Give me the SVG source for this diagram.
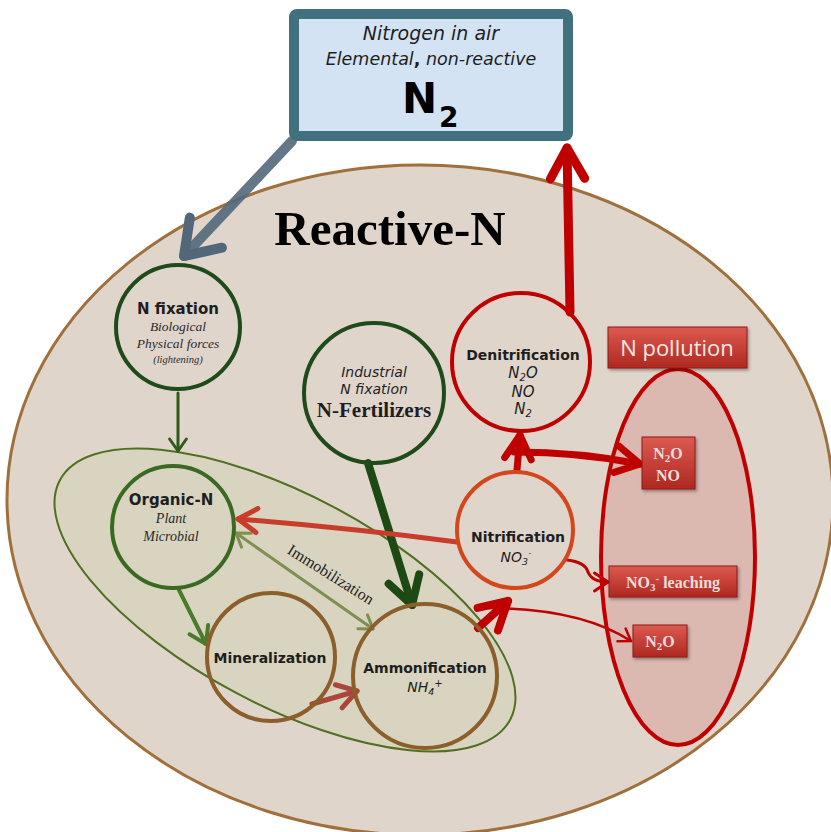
<svg xmlns="http://www.w3.org/2000/svg" width="831" height="832" viewBox="0 0 831 832">
<style>
.ttl{font-family:"DejaVu Sans",Verdana,sans-serif;font-weight:bold;fill:#1e1e1e;text-anchor:middle}
.si{font-family:"Liberation Serif","Times New Roman",serif;font-style:italic;fill:#2a2a2a;text-anchor:middle}
.sa{font-family:"DejaVu Sans",Verdana,sans-serif;font-style:italic;fill:#1e1e1e;text-anchor:middle}
.box{fill:url(#rg);stroke:#8e1a14;stroke-width:1}
.bt{font-family:"Liberation Serif","Times New Roman",serif;font-weight:bold;fill:#eadede;font-size:16px;text-anchor:middle}
.ln{fill:none;stroke-linecap:round}
</style>
<defs>
<linearGradient id="rg" x1="0" y1="0" x2="0" y2="1">
<stop offset="0" stop-color="#dc5a50"/>
<stop offset="1" stop-color="#ae2820"/>
</linearGradient>
<filter id="sh" x="-20%" y="-20%" width="140%" height="150%"><feDropShadow dx="1.5" dy="2" stdDeviation="1.5" flood-color="#000" flood-opacity="0.35"/></filter>
<marker id="mGrey" viewBox="-4.5 -3 5.5 6" refX="0" refY="0" markerWidth="5.5" markerHeight="6" orient="auto"><path d="M-3.2,-2.2 L0,0 L-3.2,2.2" fill="none" stroke="#52687a" stroke-width="1" stroke-linecap="round" stroke-linejoin="round"/></marker>
<marker id="mRed" viewBox="-4.5 -3 5.5 6" refX="0" refY="0" markerWidth="5.5" markerHeight="6" orient="auto"><path d="M-3.4,-1.9 L0,0 L-3.4,1.9" fill="none" stroke="#c00000" stroke-width="1" stroke-linecap="round" stroke-linejoin="round"/></marker>
<marker id="mRedS" viewBox="-6 -4 7 8" refX="0" refY="0" markerWidth="7" markerHeight="8" orient="auto"><path d="M-4.5,-3 L0,0 L-4.5,3" fill="none" stroke="#c00000" stroke-width="1" stroke-linecap="round" stroke-linejoin="round"/></marker>
<marker id="mDk" viewBox="-4.5 -3 5.5 6" refX="0" refY="0" markerWidth="5.5" markerHeight="6" orient="auto"><path d="M-3.4,-2 L0,0 L-3.4,2" fill="none" stroke="#1d4a12" stroke-width="1" stroke-linecap="round" stroke-linejoin="round"/></marker>
<marker id="mGr1" viewBox="-6 -4 7 8" refX="0" refY="0" markerWidth="7" markerHeight="8" orient="auto"><path d="M-4,-2.8 L0,0 L-4,2.8" fill="none" stroke="#2f5a1a" stroke-width="1" stroke-linecap="round" stroke-linejoin="round"/></marker>
<marker id="mGr2" viewBox="-6 -4 7 8" refX="0" refY="0" markerWidth="7" markerHeight="8" orient="auto"><path d="M-4,-2.6 L0,0 L-4,2.6" fill="none" stroke="#4b7a2c" stroke-width="1" stroke-linecap="round" stroke-linejoin="round"/></marker>
<marker id="mOl" viewBox="-6 -4 7 8" refX="0" refY="0" markerWidth="7" markerHeight="8" orient="auto-start-reverse"><path d="M-4.2,-2.8 L0,0 L-4.2,2.8" fill="none" stroke="#7f8f50" stroke-width="1" stroke-linecap="round" stroke-linejoin="round"/></marker>
<marker id="mBr" viewBox="-6 -4 7 8" refX="0" refY="0" markerWidth="7" markerHeight="8" orient="auto"><path d="M-3.8,-2.4 L0,0 L-3.8,2.4" fill="none" stroke="#a9473b" stroke-width="1" stroke-linecap="round" stroke-linejoin="round"/></marker>
<marker id="mRo" viewBox="-6 -4 7 8" refX="0" refY="0" markerWidth="7" markerHeight="8" orient="auto"><path d="M-3.8,-2.4 L0,0 L-3.8,2.4" fill="none" stroke="#c83c2c" stroke-width="1" stroke-linecap="round" stroke-linejoin="round"/></marker>
</defs>
<rect width="831" height="832" fill="#ffffff"/>

<g id="reactive-n">
<ellipse cx="420" cy="500" rx="413" ry="335" fill="#e0d5cb" stroke="#a0703c" stroke-width="3"/>
<text x="390" y="245" font-family="Liberation Serif,'Times New Roman',serif" font-weight="bold" font-size="49" fill="#000" text-anchor="middle">Reactive-N</text>
</g>

<g id="soil-pool">
<ellipse cx="285" cy="600" rx="255" ry="105" transform="rotate(28 285 600)" fill="#d8d4c0" stroke="#4e7020" stroke-width="2"/>
</g>

<g id="n-pollution-zone">
<ellipse cx="678" cy="557" rx="77" ry="188" fill="#dbb8b0" stroke="#c00000" stroke-width="4"/>
</g>

<g id="connectors">
<line class="ln" x1="292" y1="141" x2="184" y2="256" stroke="#52687a" stroke-opacity="0.9" stroke-width="10" marker-end="url(#mGrey)"/>
<line class="ln" x1="570" y1="312" x2="567" y2="148" stroke="#c00000" stroke-width="9" marker-end="url(#mRed)"/>
<line class="ln" x1="178" y1="393" x2="178" y2="451" stroke="#2f5a1a" stroke-width="3" marker-end="url(#mGr1)"/>
<line class="ln" x1="179" y1="590" x2="206" y2="644" stroke="#4b7a2c" stroke-width="4" marker-end="url(#mGr2)"/>
<line class="ln" x1="312" y1="704" x2="357" y2="691" stroke="#a9473b" stroke-width="5" marker-end="url(#mBr)"/>
<line class="ln" x1="236" y1="533" x2="373" y2="629" stroke="#7f8f50" stroke-width="3" marker-start="url(#mOl)" marker-end="url(#mOl)"/>
<line class="ln" x1="368" y1="463" x2="412" y2="605" stroke="#1d4a12" stroke-width="8" marker-end="url(#mDk)"/>
<path class="ln" d="M457,542 Q350,528 238,519" stroke="#c83c2c" stroke-width="5" marker-end="url(#mRo)"/>
<line class="ln" x1="478" y1="628" x2="508" y2="601" stroke="#c00000" stroke-width="8" marker-end="url(#mRed)"/>
<line class="ln" x1="517" y1="470" x2="520" y2="435" stroke="#c00000" stroke-width="7" marker-end="url(#mRed)"/>
<path class="ln" d="M514,452 Q580,452 640,464" stroke="#c00000" stroke-width="7" marker-end="url(#mRed)"/>
<path class="ln" d="M567,560 Q585,562 588,572 Q592,582 608,582" stroke="#c00000" stroke-width="3" marker-end="url(#mRedS)"/>
<path class="ln" d="M487,608 Q580,608 631,641" stroke="#c00000" stroke-width="2.5" marker-end="url(#mRedS)"/>
<text transform="translate(328,579) rotate(32)" font-family="Liberation Serif,'Times New Roman',serif" font-size="16" fill="#1e1e1e" text-anchor="middle">Immobilization</text>
</g>

<g id="n2-air">
<rect x="294" y="14" width="274" height="122" rx="3" fill="#d3e3f3" stroke="#41707f" stroke-width="10"/>
<text class="sa" x="431" y="40" font-size="19">Nitrogen in air</text>
<text class="sa" x="431" y="65" font-size="17.5">Elemental<tspan font-weight="bold" font-style="normal">,</tspan> non-reactive</text>
<text x="402" y="113" font-family="'DejaVu Sans',Verdana,sans-serif" font-weight="bold" font-size="42" fill="#000">N</text>
<text x="439" y="127" font-family="'DejaVu Sans',Verdana,sans-serif" font-weight="bold" font-size="28" fill="#000">2</text>
</g>

<g id="n-fixation">
<circle cx="178" cy="327" r="62" fill="none" stroke="#1f4a1a" stroke-width="4"/>
<text class="ttl" x="178" y="314" font-size="15">N fixation</text>
<text class="si" x="178" y="331" font-size="13.5">Biological</text>
<text class="si" x="178" y="348" font-size="13.5">Physical forces</text>
<text class="si" x="178" y="363" font-size="10.5">(lightening)</text>
</g>

<g id="industrial">
<circle cx="374" cy="393" r="70" fill="none" stroke="#1f4a1a" stroke-width="4"/>
<text class="sa" x="374" y="377" font-size="14">Industrial</text>
<text class="sa" x="374" y="394" font-size="14">N fixation</text>
<text x="374" y="417" font-family="Liberation Serif,'Times New Roman',serif" font-weight="bold" font-size="21" fill="#1e1e1e" text-anchor="middle">N-Fertilizers</text>
</g>

<g id="denitrification">
<circle cx="521" cy="362" r="69" fill="none" stroke="#c00000" stroke-width="4"/>
<text class="ttl" x="523" y="360" font-size="14">Denitrification</text>
<text class="sa" x="523" y="378" font-size="15">N<tspan font-size="10" dy="3">2</tspan><tspan dy="-3">O</tspan></text>
<text class="sa" x="523" y="397" font-size="15">NO</text>
<text class="sa" x="523" y="414" font-size="15">N<tspan font-size="10" dy="3">2</tspan></text>
</g>

<g id="nitrification">
<circle cx="515" cy="530" r="58" fill="none" stroke="#d2481c" stroke-width="4"/>
<text class="ttl" x="518" y="542" font-size="14">Nitrification</text>
<text class="sa" x="516" y="562" font-size="14">NO<tspan font-size="9.5" dy="3">3</tspan><tspan font-size="9" dy="-9">-</tspan></text>
</g>

<g id="organic-n">
<circle cx="173" cy="527" r="61" fill="none" stroke="#3a6a22" stroke-width="4"/>
<text class="ttl" x="171" y="505" font-size="15" fill="#2e3326">Organic-N</text>
<text class="si" x="171" y="523" font-size="14">Plant</text>
<text class="si" x="171" y="541" font-size="14">Microbial</text>
</g>

<g id="mineralization">
<circle cx="271" cy="657" r="64" fill="none" stroke="#8b5e2b" stroke-width="4"/>
<text class="ttl" x="270" y="663" font-size="14" fill="#303226">Mineralization</text>
</g>

<g id="ammonification">
<circle cx="425" cy="676" r="72" fill="none" stroke="#8b5e2b" stroke-width="4"/>
<text class="ttl" x="425" y="673" font-size="14" fill="#303226">Ammonification</text>
<text class="sa" x="425" y="692" font-size="14">NH<tspan font-size="9.5" dy="3">4</tspan><tspan font-size="10" dy="-8">+</tspan></text>
</g>

<g id="n-pollution">
<rect class="box" x="608" y="327" width="139" height="41" filter="url(#sh)"/>
<text x="677" y="356" font-family="'Open Sans','Liberation Sans',sans-serif" font-size="22" fill="#f3ebe6" text-anchor="middle">N pollution</text>
</g>

<g id="box-n2o-no">
<rect class="box" x="642" y="437" width="53" height="52" filter="url(#sh)"/>
<text class="bt" x="668" y="459">N<tspan font-size="11" dy="3">2</tspan><tspan dy="-3">O</tspan></text>
<text class="bt" x="668" y="481">NO</text>
</g>

<g id="box-no3-leaching">
<rect class="box" x="609" y="566" width="128" height="31" filter="url(#sh)"/>
<text class="bt" x="673" y="588" font-size="17">NO<tspan font-size="11" dy="3">3</tspan><tspan font-size="11" dy="-9">-</tspan><tspan dy="6"> leaching</tspan></text>
</g>

<g id="box-n2o">
<rect class="box" x="633" y="625" width="54" height="32" filter="url(#sh)"/>
<text class="bt" x="660" y="647" font-size="17">N<tspan font-size="11" dy="3">2</tspan><tspan dy="-3">O</tspan></text>
</g>
</svg>
